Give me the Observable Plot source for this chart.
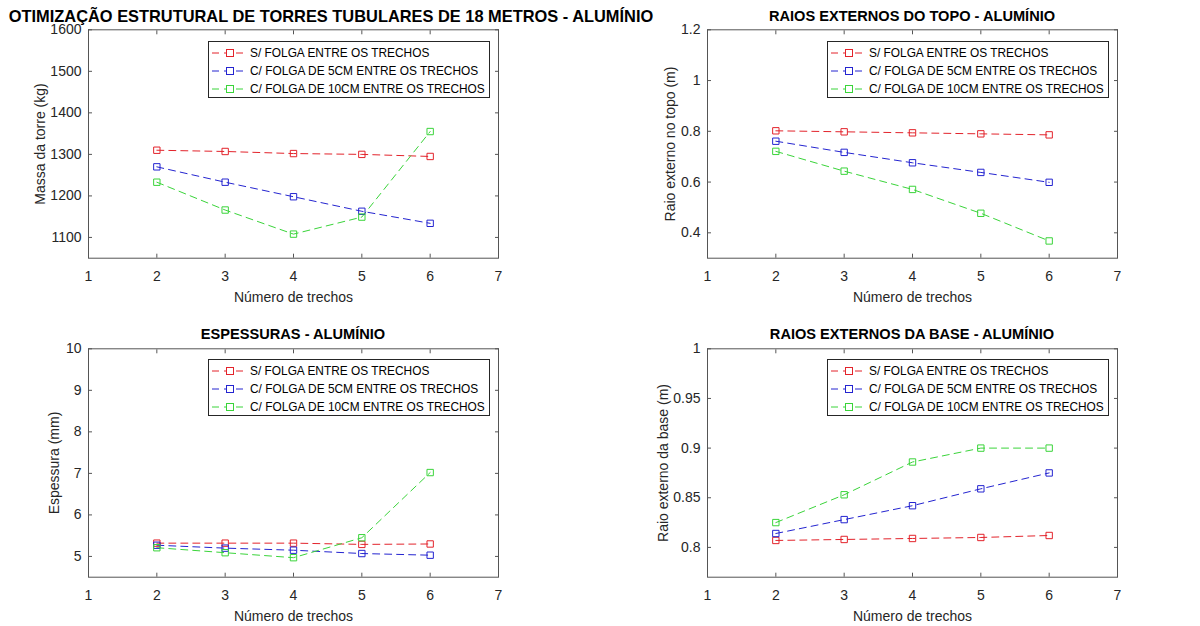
<!DOCTYPE html>
<html>
<head>
<meta charset="utf-8">
<script src="https://cdn.jsdelivr.net/npm/d3@7"></script>
<script src="https://cdn.jsdelivr.net/npm/@observablehq/plot@0.6"></script>
<style>
  html, body { margin: 0; padding: 0; background: #fff; }
  #root { position: relative; width: 1200px; height: 626px; overflow: hidden; font-family: "Liberation Sans", Arial, sans-serif; color: #262626; }
  .panel { position: absolute; }
  .title { position: absolute; font-weight: bold; font-size: 14.6px; line-height: 1; text-align: center; white-space: nowrap; color: #000; transform: translateX(-50%); }
  .title.main { font-size: 16.4px; }
  .legend { position: absolute; width: 280px; height: 55px; border: 1px solid #262626; background: #fff; font-size: 13.5px; color: #000; }
  .legend .row { position: absolute; left: 0; height: 18px; width: 280px; white-space: nowrap; }
  .legend svg { position: absolute; left: 2px; top: 4px; display: block; }
  .legend span { position: absolute; left: 41px; top: 0; line-height: 18px; display: inline-block; transform: scaleX(0.88); transform-origin: 0 50%; }
</style>
</head>
<body>
<div id="root"></div>
<script>
// ---- data ----
const trechos = [2, 3, 4, 5, 6];
const seriesNames = [
  "S/ FOLGA ENTRE OS TRECHOS",
  "C/ FOLGA DE 5CM ENTRE OS TRECHOS",
  "C/ FOLGA DE 10CM ENTRE OS TRECHOS"
];
const seriesColors = ["#e3232b", "#2424d0", "#3ad43a"];

const massaSemFolga = [1310, 1307, 1302, 1300, 1295];
const massaFolga5 = [1270, 1233, 1198, 1163, 1134];
const massaFolga10 = [1233, 1166, 1108, 1149, 1355];

const topoSemFolga = [0.802, 0.798, 0.794, 0.790, 0.786];
const topoFolga5 = [0.761, 0.717, 0.676, 0.638, 0.599];
const topoFolga10 = [0.721, 0.643, 0.571, 0.477, 0.368];

const espSemFolga = [5.32, 5.32, 5.32, 5.29, 5.30];
const espFolga5 = [5.27, 5.20, 5.15, 5.07, 5.03];
const espFolga10 = [5.21, 5.09, 4.97, 5.45, 7.02];

const baseSemFolga = [0.807, 0.808, 0.809, 0.810, 0.812];
const baseFolga5 = [0.814, 0.828, 0.842, 0.859, 0.875];
const baseFolga10 = [0.825, 0.853, 0.886, 0.900, 0.900];

const xTicks = [1, 2, 3, 4, 5, 6, 7];
const massaTicks = [1100, 1200, 1300, 1400, 1500, 1600];
const topoTicks = [0.4, 0.6, 0.8, 1, 1.2];
const espTicks = [5, 6, 7, 8, 9, 10];
const baseTicks = [0.8, 0.85, 0.9, 0.95, 1];

const titles = [
  "OTIMIZAÇÃO ESTRUTURAL DE TORRES TUBULARES DE 18 METROS - ALUMÍNIO",
  "RAIOS EXTERNOS DO TOPO - ALUMÍNIO",
  "ESPESSURAS - ALUMÍNIO",
  "RAIOS EXTERNOS DA BASE - ALUMÍNIO"
];
const yLabels = [
  "Massa da torre (kg)",
  "Raio externo no topo (m)",
  "Espessura (mm)",
  "Raio externo da base (m)"
];
const xLabel = "Número de trechos";

// ---- build ----
function rows(a, b, c) {
  const out = [];
  [a, b, c].forEach((vals, si) => {
    vals.forEach((v, i) => out.push({x: trechos[i], y: v, s: seriesNames[si]}));
  });
  return out;
}

const panels = [
  {data: rows(massaSemFolga, massaFolga5, massaFolga10), yDomain: [1050, 1600], yTicks: massaTicks, left: 0, top: 0, ml: 88, yOff: 53, titleX: 331, titleY: 7.5, main: true},
  {data: rows(topoSemFolga, topoFolga5, topoFolga10), yDomain: [0.3, 1.2], yTicks: topoTicks, left: 600, top: 0, ml: 107, yOff: 42, titleX: 912, titleY: 9},
  {data: rows(espSemFolga, espFolga5, espFolga10), yDomain: [4.5, 10], yTicks: espTicks, left: 0, top: 319, ml: 88, yOff: 39, titleX: 293, titleY: 327},
  {data: rows(baseSemFolga, baseFolga5, baseFolga10), yDomain: [0.77, 1.0], yTicks: baseTicks, left: 600, top: 319, ml: 107, yOff: 49, titleX: 912, titleY: 327}
];

const root = document.getElementById("root");
const axisColor = "#555";

panels.forEach((p, idx) => {
  const mt = 348.3 - 319;
  const width = 600;
  const mr = width - p.ml - 410;
  const height = 306;
  const mb = height - mt - 228.4;
  const chart = Plot.plot({
    width, height,
    marginLeft: p.ml, marginRight: mr, marginTop: mt, marginBottom: mb,
    style: {fontFamily: '"Liberation Sans", Arial, sans-serif', fontSize: "13px", color: "#262626", background: "transparent", overflow: "visible"},
    x: {domain: [1, 7]},
    y: {domain: p.yDomain},
    color: {domain: seriesNames, range: seriesColors},
    marks: [
      Plot.frame({stroke: axisColor, strokeWidth: 1}),
      Plot.axisX(xTicks, {anchor: "bottom", tickSize: -4, tickPadding: 17, stroke: axisColor, label: xLabel, labelAnchor: "center", labelArrow: "none", labelOffset: 44, fontSize: 14, tickFormat: d => String(d)}),
      Plot.axisX(xTicks, {anchor: "top", tickSize: -4, stroke: axisColor, tickFormat: () => "", label: null}),
      Plot.axisY(p.yTicks, {anchor: "left", tickSize: -4, tickPadding: 11, stroke: axisColor, label: yLabels[idx], labelAnchor: "center", labelArrow: "none", labelOffset: p.yOff, fontSize: 14, tickFormat: d => String(d)}),
      Plot.axisY(p.yTicks, {anchor: "right", tickSize: -4, stroke: axisColor, tickFormat: () => "", label: null}),
      Plot.line(p.data, {x: "x", y: "y", z: "s", stroke: "s", strokeWidth: 1, strokeDasharray: "7,5"}),
      Plot.dot(p.data, {x: "x", y: "y", stroke: "s", symbol: "square", r: 3.6, strokeWidth: 1, fill: "none"})
    ]
  });
  chart.classList.add("panel");
  chart.style.left = p.left + "px";
  chart.style.top = p.top + "px";
  root.appendChild(chart);

  // title
  const t = document.createElement("div");
  t.className = "title" + (p.main ? " main" : "");
  t.textContent = titles[idx];
  t.style.left = p.titleX + "px";
  t.style.top = p.titleY + "px";
  root.appendChild(t);

  // legend
  const lg = document.createElement("div");
  lg.className = "legend";
  lg.style.left = (p.left + p.ml + 120) + "px";
  lg.style.top = (p.top === 0 ? 41 : 359) + "px";
  const rowCenters = [10.5, 29.3, 46.8];
  seriesNames.forEach((name, si) => {
    const row = document.createElement("div");
    row.className = "row";
    row.style.top = (rowCenters[si] - 9) + "px";
    const svg = d3.create("svg").attr("width", 38).attr("height", 10);
    svg.append("line").attr("x1", 1).attr("x2", 37).attr("y1", 5).attr("y2", 5)
      .attr("stroke", seriesColors[si]).attr("stroke-width", 1).attr("stroke-dasharray", "7,5");
    svg.append("rect").attr("x", 15.5).attr("y", 1.5).attr("width", 7).attr("height", 7)
      .attr("fill", "#fff").attr("stroke", seriesColors[si]).attr("stroke-width", 1);
    row.appendChild(svg.node());
    const sp = document.createElement("span");
    sp.textContent = name;
    row.appendChild(sp);
    lg.appendChild(row);
  });
  root.appendChild(lg);
});
</script>
</body>
</html>
